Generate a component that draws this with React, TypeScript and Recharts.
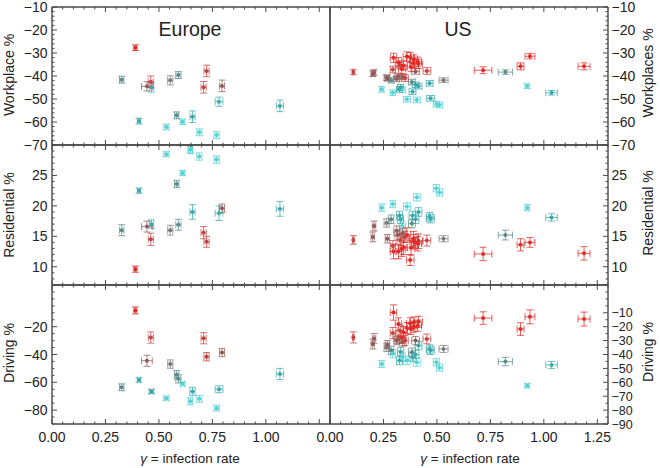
import React from 'react';
import { ScatterChart, Scatter, XAxis, YAxis, ErrorBar } from 'recharts';

const FONT = '"Liberation Sans", Arial, Helvetica, sans-serif';
const AX = '#4a4a4a';
const TXT = '#222222';

const COLORS: Record<string, string> = {
  R: '#e32a27',
  DR: '#c4423f',
  BR: '#8f5c5a',
  GR: '#7b7777',
  TG: '#5b8a8b',
  T: '#3aa9ab',
  C: '#55d2d4',
};
const COLOR_KEYS = ['C', 'T', 'TG', 'GR', 'BR', 'DR', 'R'];

// ---------------- Europe ----------------
const euGamma = [0.39, 0.326, 0.407, 0.444, 0.462, 0.465, 0.535, 0.553, 0.583, 0.591, 0.611, 0.647, 0.657, 0.689, 0.709, 0.723, 0.77, 0.781, 0.795, 1.066];
const euGammaErr = [0.007, 0.01, 0.008, 0.025, 0.012, 0.01, 0.012, 0.012, 0.01, 0.012, 0.01, 0.01, 0.012, 0.012, 0.012, 0.012, 0.012, 0.018, 0.012, 0.017];
const euColor = ['R', 'TG', 'T', 'BR', 'DR', 'T', 'C', 'GR', 'TG', 'TG', 'C', 'C', 'T', 'C', 'DR', 'DR', 'C', 'T', 'BR', 'T'];
const euWork = [-27.7, -41.6, -59.6, -44.5, -42.5, -45, -62.2, -41.9, -57.1, -39.6, -59.9, -72, -57.7, -64.5, -44.9, -37.8, -65.7, -51.2, -44.3, -53];
const euWorkErr = [1.2, 1.5, 1.2, 2, 2.5, 2, 1.2, 2, 1.5, 1.5, 1.2, 1.5, 2.5, 1.5, 2.5, 2.5, 1.5, 2, 2.5, 2.5];
const euRes = [9.6, 16.0, 22.5, 16.6, 14.5, 17.0, 28.5, 16.0, 23.6, 16.9, 25.4, 29.2, 19.0, 28.1, 15.6, 14.1, 27.6, 18.8, 19.6, 19.5];
const euResErr = [0.5, 0.9, 0.4, 0.9, 1, 0.7, 0.4, 0.8, 0.6, 0.9, 0.4, 0.6, 1.2, 0.6, 1, 0.9, 0.6, 1.2, 0.7, 1.2];
const euDrive = [-8.3, -63.6, -58.3, -44.5, -27.8, -66.6, -71.4, -46.9, -54.5, -57.5, -61.1, -73.6, -66.6, -71.9, -28.3, -41.6, -78.6, -65, -38.6, -54];
const euDriveErr = [2.5, 2.5, 1.5, 4, 4, 1.5, 1.5, 3, 3, 3, 1.5, 2.5, 3, 2.5, 4, 3, 2, 2.5, 3, 4];

// ---------------- US ----------------
const usGamma = [0.109, 0.2, 0.206, 0.242, 0.265, 0.268, 0.286, 0.294, 0.297, 0.294, 0.312, 0.317, 0.32, 0.325, 0.33, 0.328, 0.336, 0.338, 0.34, 0.344, 0.35, 0.36, 0.36, 0.375, 0.379, 0.383, 0.386, 0.39, 0.392, 0.4, 0.4, 0.406, 0.41, 0.414, 0.414, 0.453, 0.466, 0.47, 0.497, 0.512, 0.531, 0.716, 0.82, 0.891, 0.935, 0.922, 1.036, 1.188];
const usGammaErr = [0.004, 0.008, 0.008, 0.01, 0.012, 0.01, 0.012, 0.012, 0.015, 0.012, 0.014, 0.014, 0.015, 0.014, 0.014, 0.015, 0.016, 0.014, 0.016, 0.016, 0.016, 0.018, 0.016, 0.018, 0.018, 0.016, 0.016, 0.018, 0.018, 0.016, 0.018, 0.016, 0.018, 0.018, 0.016, 0.018, 0.016, 0.018, 0.014, 0.014, 0.021, 0.041, 0.033, 0.016, 0.023, 0.01, 0.027, 0.028];
const usColor = ['DR', 'BR', 'BR', 'C', 'GR', 'BR', 'TG', 'C', 'R', 'DR', 'BR', 'BR', 'R', 'T', 'T', 'DR', 'R', 'C', 'BR', 'R', 'DR', 'R', 'C', 'R', 'R', 'TG', 'T', 'R', 'R', 'T', 'BR', 'C', 'R', 'R', 'T', 'DR', 'T', 'T', 'C', 'C', 'GR', 'R', 'TG', 'R', 'R', 'C', 'T', 'R'];
const usWork = [-38.3, -39, -38.5, -45.8, -40.7, -41, -41.8, -47.3, -32.1, -37.2, -41.3, -40, -34, -45.8, -44.9, -35.4, -37, -46, -40.4, -35.4, -40.9, -31.5, -50.1, -31.8, -36.1, -42.6, -46.8, -34.5, -32.8, -43.8, -38, -50.4, -33.8, -34.7, -44.4, -37.8, -43.2, -49.7, -52.2, -52.6, -41.8, -37.5, -38.3, -35.8, -31.4, -44.4, -47.3, -35.8];
const usWorkErr = [1, 1.2, 1.2, 1.2, 1.2, 1.2, 1.2, 1.2, 2, 1.5, 1.2, 1.2, 2, 1.2, 1.2, 1.5, 2, 1.2, 1.2, 2, 1.5, 2, 1.2, 2, 2, 1.2, 1.2, 2, 2, 1.2, 1.2, 1.2, 2, 2, 1.2, 1.5, 1.2, 1.2, 1.2, 1.2, 1, 1.5, 1, 1.5, 1.2, 1, 1, 1.5];
const usRes = [14.4, 14.9, 16.7, 19.7, 17.2, 14.6, 17.8, 20.3, 12.5, 13.4, 15.9, 15.2, 12.5, 18.4, 17.8, 14.4, 12.9, 16.7, 15.5, 13.2, 14.9, 15.2, 19.9, 11.1, 13.1, 17.1, 18.4, 14.6, 14.1, 17.8, 14.0, 21.4, 13.8, 14.2, 19.0, 14.3, 18.2, 17.9, 22.9, 22.2, 14.6, 12.1, 15.2, 13.6, 14.0, 19.7, 18.1, 12.2];
const usResErr = [0.7, 0.8, 0.8, 0.6, 0.7, 0.7, 0.7, 0.6, 1.2, 0.9, 0.8, 0.8, 1.2, 0.7, 0.7, 0.9, 1.2, 0.7, 0.8, 1.2, 0.9, 1.2, 0.6, 0.9, 1.2, 0.7, 0.7, 1.2, 1.2, 0.7, 0.8, 0.6, 1.2, 1.2, 0.7, 0.9, 0.7, 0.7, 0.6, 0.6, 0.5, 1.1, 0.8, 1, 0.8, 0.5, 0.6, 1.1];
const usDrive = [-27.7, -32.5, -28.5, -46.8, -34.8, -33, -37, -39.4, -9.8, -24.6, -30, -29, -18.1, -44.3, -38, -22.9, -27.7, -42, -31, -24, -30, -21, -44.3, -17.6, -21.6, -38.3, -41.9, -20, -17, -40, -30, -45.5, -19.3, -16.5, -33.6, -28.8, -36, -37, -45.5, -49.5, -36, -13.8, -45.1, -21.7, -12.9, -62.5, -47.5, -14.5];
const usDriveErr = [4, 3.5, 3.5, 2.5, 3, 3, 3, 3, 5.5, 4, 3, 3, 4.5, 3, 3, 4, 4, 3, 3, 4, 3.5, 4, 3, 4, 4, 3, 3, 4, 4, 3, 3, 3, 4, 4, 3, 3.5, 3, 3, 2.5, 2.5, 2.5, 4.5, 3, 4.5, 5, 1.5, 2.5, 5];

// ---------------- Axes ----------------
const X_MAJOR = [0, 0.25, 0.5, 0.75, 1.0, 1.25];
const X_LABELS_LEFT = [0, 0.25, 0.5, 0.75, 1.0];
const X_LABELS_RIGHT = [0, 0.25, 0.5, 0.75, 1.0, 1.25];
const WORK_MAJOR = [-70, -60, -50, -40, -30, -20, -10];
const RES_MAJOR = [10, 15, 20, 25];
const DRIVE_MAJOR_LEFT = [-80, -60, -40, -20];
const DRIVE_MAJOR_RIGHT = [-90, -80, -70, -60, -50, -40, -30, -20, -10];

const range = (a: number, b: number, s: number) => {
  const out: number[] = [];
  for (let v = a; v <= b + 1e-9; v += s) out.push(Math.round(v * 1000) / 1000);
  return out;
};
const X_TICKS = range(0, 1.3, 0.05);

type Row = { g: number; ex: number; c: string; y: number; ey: number };
const build = (gs: number[], ges: number[], cs: string[], ys: number[], eys: number[]): Row[] =>
  gs.map((g, i) => ({ g, ex: ges[i], c: cs[i], y: ys[i], ey: eys[i] }));

const fmtY = (v: number) => (v < 0 ? `\u2212${Math.abs(v)}` : `${v}`);
const fmtX = (v: number) => v.toFixed(2);
const has = (arr: number[], v: number) => arr.some((m) => Math.abs(m - v) < 1e-6);

function tickRenderer(orient: string, majors: number[], labels: number[], fmt: (v: number) => string, fs = 14) {
  return (props: any) => {
    const { x, y, payload, index } = props;
    const v = payload.value;
    const len = has(majors, v) ? 5 : 2.5;
    const lab = has(labels, v);
    let line: any = null;
    let text: any = null;
    const tp = { fontSize: fs, fontFamily: FONT, fill: TXT };
    const dy = fs * 0.36;
    if (orient === 'bottom') {
      line = <line x1={x} x2={x} y1={y} y2={y - len} stroke={AX} />;
      if (lab) text = <text x={x} y={y + 17.5} textAnchor="middle" {...tp}>{fmt(v)}</text>;
    } else if (orient === 'top') {
      line = <line x1={x} x2={x} y1={y} y2={y + len} stroke={AX} />;
    } else if (orient === 'left') {
      line = <line x1={x} x2={x + len} y1={y} y2={y} stroke={AX} />;
      if (lab) text = <text x={x - 4.5} y={y + dy} textAnchor="end" {...tp}>{fmt(v)}</text>;
    } else {
      line = <line x1={x} x2={x - len} y1={y} y2={y} stroke={AX} />;
      if (lab) text = <text x={x + 3.5} y={y + dy} textAnchor="start" {...tp}>{fmt(v)}</text>;
    }
    return (
      <g key={`t-${orient}-${index}`}>
        {line}
        {text}
      </g>
    );
  };
}

type PanelProps = {
  data: Row[];
  domain: [number, number];
  yTicks: number[];
  yMajor: number[];
  yLabels: number[];
  side: 'L' | 'R';
  xLabels: number[] | null;
  top: number;
  plotH: number;
  yFont?: number;
};

const PAD = 15;
const AXW = 52;
const PLOT_W = 278;

function Panel(p: PanelProps) {
  const isL = p.side === 'L';
  const bottomH = p.xLabels ? 30 : 1;
  const W = PAD + PLOT_W + AXW;
  const H = PAD + p.plotH + (p.xLabels ? 30 + 4 : PAD);
  const chartLeft = isL ? 0 : 330 - PAD;
  const axisLine = { stroke: AX, strokeWidth: 1.4 };
  const yFs = p.yFont || 14;
  const dot = (color: string) => (props: any) =>
    <circle cx={props.cx} cy={props.cy} r={2} fill={color} />;
  return (
    <div style={{ position: 'absolute', left: chartLeft, top: p.top - PAD }}>
      <ScatterChart
        width={W}
        height={H}
        margin={{
          top: PAD - 1,
          bottom: p.xLabels ? 4 : PAD - 1,
          left: isL ? 0 : PAD - 1,
          right: isL ? PAD - 1 : 0,
        }}
      >
        <XAxis
          xAxisId="b"
          type="number"
          dataKey="g"
          domain={[0, 1.3]}
          allowDataOverflow
          ticks={X_TICKS}
          interval={0}
          orientation="bottom"
          height={bottomH}
          tickSize={0}
          tickMargin={0}
          tickLine={false}
          axisLine={axisLine}
          tick={tickRenderer('bottom', X_MAJOR, p.xLabels || [], fmtX)}
        />
        <XAxis
          xAxisId="t"
          type="number"
          dataKey="g"
          domain={[0, 1.3]}
          allowDataOverflow
          ticks={X_TICKS}
          interval={0}
          orientation="top"
          height={1}
          tickSize={0}
          tickMargin={0}
          tickLine={false}
          axisLine={axisLine}
          tick={tickRenderer('top', X_MAJOR, [], fmtX)}
        />
        <YAxis
          yAxisId="l"
          type="number"
          dataKey="y"
          domain={p.domain}
          allowDataOverflow
          ticks={p.yTicks}
          interval={0}
          orientation="left"
          width={isL ? AXW : 1}
          tickSize={0}
          tickMargin={0}
          tickLine={false}
          axisLine={axisLine}
          tick={isL ? tickRenderer('left', p.yMajor, p.yLabels, fmtY, yFs) : false}
        />
        <YAxis
          yAxisId="r"
          type="number"
          dataKey="y"
          domain={p.domain}
          allowDataOverflow
          ticks={p.yTicks}
          interval={0}
          orientation="right"
          width={isL ? 1 : AXW}
          tickSize={0}
          tickMargin={0}
          tickLine={false}
          axisLine={axisLine}
          tick={isL ? false : tickRenderer('right', p.yMajor, p.yLabels, fmtY, yFs)}
        />
        {COLOR_KEYS.map((k) => {
          const d = p.data.filter((r) => r.c === k);
          if (!d.length) return null;
          return (
            <Scatter
              key={k}
              data={d}
              xAxisId="b"
              yAxisId="l"
              fill={COLORS[k]}
              shape={dot(COLORS[k])}
              isAnimationActive={false}
            >
              <ErrorBar dataKey="ex" direction="x" width={3.5} stroke={COLORS[k]} strokeOpacity={0.75} strokeWidth={1} isAnimationActive={false} />
              <ErrorBar dataKey="ey" direction="y" width={3.5} stroke={COLORS[k]} strokeOpacity={0.75} strokeWidth={1} isAnimationActive={false} />
            </Scatter>
          );
        })}
      </ScatterChart>
    </div>
  );
}

const euW = build(euGamma, euGammaErr, euColor, euWork, euWorkErr);
const euR = build(euGamma, euGammaErr, euColor, euRes, euResErr);
const euD = build(euGamma, euGammaErr, euColor, euDrive, euDriveErr);
const usW = build(usGamma, usGammaErr, usColor, usWork, usWorkErr);
const usR = build(usGamma, usGammaErr, usColor, usRes, usResErr);
const usD = build(usGamma, usGammaErr, usColor, usDrive, usDriveErr);

const WORK_TICKS = range(-70, -10, 2);
const RES_TICKS = range(7, 30, 1);
const DRIVE_TICKS = range(-90, 10, 5);

export default function App() {
  const rows = [
    { top: 7, h: 138 },
    { top: 145, h: 140 },
    { top: 285, h: 139 },
  ];
  const tp = { fontFamily: FONT, fill: TXT };
  return (
    <div style={{ position: 'absolute', left: 0, top: 0, width: 660, height: 468, background: '#fff', overflow: 'hidden' }}>
      <Panel data={euW} domain={[-70, -10]} yTicks={WORK_TICKS} yMajor={WORK_MAJOR} yLabels={WORK_MAJOR} side="L" xLabels={null} top={rows[0].top} plotH={rows[0].h} />
      <Panel data={usW} domain={[-70, -10]} yTicks={WORK_TICKS} yMajor={WORK_MAJOR} yLabels={WORK_MAJOR} side="R" xLabels={null} top={rows[0].top} plotH={rows[0].h} />
      <Panel data={euR} domain={[7, 30]} yTicks={RES_TICKS} yMajor={RES_MAJOR} yLabels={RES_MAJOR} side="L" xLabels={null} top={rows[1].top} plotH={rows[1].h} />
      <Panel data={usR} domain={[7, 30]} yTicks={RES_TICKS} yMajor={RES_MAJOR} yLabels={RES_MAJOR} side="R" xLabels={null} top={rows[1].top} plotH={rows[1].h} />
      <Panel data={euD} domain={[-90, 10]} yTicks={DRIVE_TICKS} yMajor={DRIVE_MAJOR_LEFT} yLabels={DRIVE_MAJOR_LEFT} side="L" xLabels={X_LABELS_LEFT} top={rows[2].top} plotH={rows[2].h} />
      <Panel data={usD} domain={[-90, 10]} yTicks={DRIVE_TICKS} yMajor={DRIVE_MAJOR_RIGHT} yLabels={DRIVE_MAJOR_RIGHT} side="R" xLabels={X_LABELS_RIGHT} top={rows[2].top} plotH={rows[2].h} yFont={12.5} />
      <svg width={660} height={468} style={{ position: 'absolute', left: 0, top: 0, pointerEvents: 'none' }}>
        <text x={190} y={36} textAnchor="middle" fontSize={19.5} {...tp}>Europe</text>
        <text x={458} y={36} textAnchor="middle" fontSize={19.5} {...tp}>US</text>
        <text transform="translate(14,75) rotate(-90)" textAnchor="middle" fontSize={14} {...tp}>Workplace %</text>
        <text transform="translate(14,215) rotate(-90)" textAnchor="middle" fontSize={14} {...tp}>Residential %</text>
        <text transform="translate(14,353) rotate(-90)" textAnchor="middle" fontSize={14} {...tp}>Driving %</text>
        <text transform="translate(653,73) rotate(-90)" textAnchor="middle" fontSize={14} {...tp}>Workplaces %</text>
        <text transform="translate(653,213) rotate(-90)" textAnchor="middle" fontSize={14} {...tp}>Residential %</text>
        <text transform="translate(653,352) rotate(-90)" textAnchor="middle" fontSize={14} {...tp}>Driving %</text>
        <text x={190} y={463} textAnchor="middle" fontSize={13.5} {...tp}>
          <tspan fontStyle="italic">γ</tspan> = infection rate
        </text>
        <text x={470} y={463} textAnchor="middle" fontSize={13.5} {...tp}>
          <tspan fontStyle="italic">γ</tspan> = infection rate
        </text>
      </svg>
    </div>
  );
}
